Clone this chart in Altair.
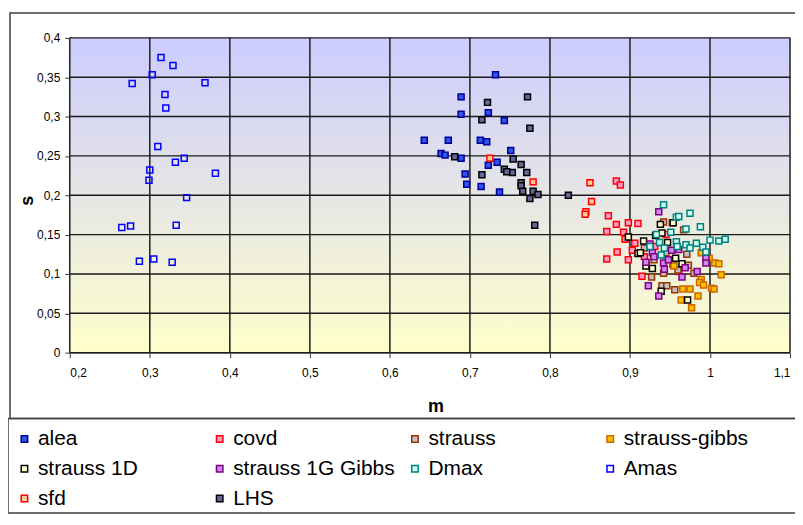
import altair as alt
import pandas as pd

FONT = "Liberation Sans"

series_names = ["alea", "covd", "strauss", "strauss-gibbs", "strauss 1D",
                "strauss 1G Gibbs", "Dmax", "Amas", "sfd", "LHS"]
fill_colors = ["#2F55E8", "#FF99CC", "#C0C0C0", "#FFC000", "#FFFFCC",
               "#CC88EE", "#CCFFEE", "transparent", "#FFCC99", "#666699"]
stroke_colors = ["#000099", "#FF0000", "#993300", "#CC6600", "#000000",
                 "#800080", "#008080", "#0000FF", "#FF0000", "#000000"]

x_ticks = [0.2, 0.3, 0.4, 0.5, 0.6, 0.7, 0.8, 0.9, 1.0, 1.1]
y_ticks = [0, 0.05, 0.1, 0.15, 0.2, 0.25, 0.3, 0.35, 0.4]

alea_m = [0.732, 0.689, 0.689, 0.723, 0.743, 0.673, 0.713, 0.721, 0.664, 0.669,
          0.689, 0.751, 0.734, 0.723, 0.694, 0.696, 0.714, 0.737, 0.643]
alea_s = [0.353, 0.325, 0.303, 0.305, 0.295, 0.270, 0.270, 0.268, 0.253, 0.251,
          0.247, 0.257, 0.242, 0.238, 0.227, 0.214, 0.211, 0.204, 0.270]

covd_m = [0.883, 0.888, 0.873, 0.883, 0.898, 0.910, 0.871, 0.892, 0.894, 0.906,
          0.903, 0.884, 0.871, 0.898, 0.915, 0.931, 0.961, 0.918, 0.945]
covd_s = [0.218, 0.213, 0.174, 0.163, 0.165, 0.164, 0.154, 0.153, 0.144, 0.139,
          0.130, 0.128, 0.119, 0.118, 0.097, 0.135, 0.103, 0.122, 0.150]

strauss_m = [0.942, 0.953, 0.918, 0.927, 0.942, 0.940, 0.954, 0.956, 0.973, 0.980,
             0.954, 0.971, 0.946, 0.967, 0.930, 0.960, 0.945]
strauss_s = [0.166, 0.165, 0.133, 0.096, 0.101, 0.085, 0.112, 0.080, 0.111, 0.101,
             0.113, 0.125, 0.085, 0.156, 0.118, 0.105, 0.127]

sg_m = [0.989, 0.999, 1.006, 1.011, 1.014, 0.989, 0.987, 0.992, 1.002, 1.005,
        0.966, 0.975, 0.985, 0.964, 0.977, 0.955]
sg_s = [0.127, 0.120, 0.114, 0.113, 0.099, 0.093, 0.089, 0.086, 0.082, 0.081,
        0.081, 0.081, 0.072, 0.067, 0.057, 0.110]

s1d_m = [0.938, 0.954, 0.898, 0.917, 0.910, 0.940, 0.928, 0.939, 0.972, 0.913,
         0.947, 0.957, 0.920, 0.932, 0.965]
s1d_s = [0.163, 0.165, 0.147, 0.142, 0.126, 0.152, 0.107, 0.078, 0.067, 0.127,
         0.140, 0.120, 0.110, 0.149, 0.113]

s1g_m = [0.936, 0.928, 0.920, 0.942, 0.943, 0.923, 0.936, 0.952, 0.961, 0.995,
         0.995, 0.984, 0.969, 0.965, 0.925, 0.948, 0.930]
s1g_s = [0.179, 0.127, 0.115, 0.114, 0.106, 0.085, 0.072, 0.130, 0.131, 0.120,
         0.114, 0.103, 0.108, 0.096, 0.138, 0.118, 0.122]

dmax_m = [0.942, 0.933, 0.937, 0.951, 0.943, 0.939, 0.958, 0.961, 0.975, 0.988,
          0.970, 0.958, 0.983, 0.970, 0.975, 0.991, 0.995, 1.000, 1.011, 1.019,
          0.959, 0.925]
dmax_s = [0.188, 0.150, 0.140, 0.153, 0.133, 0.124, 0.172, 0.173, 0.177, 0.160,
          0.157, 0.141, 0.139, 0.137, 0.133, 0.134, 0.128, 0.143, 0.142, 0.144,
          0.135, 0.135]

amas_m = [0.314, 0.329, 0.303, 0.278, 0.369, 0.319, 0.320, 0.310, 0.343, 0.332,
          0.382, 0.300, 0.299, 0.346, 0.265, 0.276, 0.333, 0.287, 0.305, 0.328]
amas_s = [0.375, 0.365, 0.353, 0.342, 0.343, 0.328, 0.311, 0.262, 0.247, 0.242,
          0.228, 0.232, 0.219, 0.197, 0.159, 0.161, 0.162, 0.116, 0.119, 0.115]

sfd_m = [0.850, 0.852, 0.845, 0.844, 0.725, 0.779]
sfd_s = [0.216, 0.192, 0.179, 0.176, 0.247, 0.217]

lhs_m = [0.772, 0.722, 0.715, 0.775, 0.681, 0.754, 0.764, 0.743, 0.753, 0.746,
         0.771, 0.715, 0.764, 0.764, 0.766, 0.779, 0.785, 0.775, 0.823, 0.781]
lhs_s = [0.325, 0.318, 0.296, 0.285, 0.249, 0.246, 0.239, 0.233, 0.229, 0.230,
         0.229, 0.226, 0.216, 0.212, 0.205, 0.205, 0.201, 0.196, 0.200, 0.162]

series_data = [
    ("alea", alea_m, alea_s), ("covd", covd_m, covd_s),
    ("strauss", strauss_m, strauss_s), ("strauss-gibbs", sg_m, sg_s),
    ("strauss 1D", s1d_m, s1d_s), ("strauss 1G Gibbs", s1g_m, s1g_s),
    ("Dmax", dmax_m, dmax_s), ("Amas", amas_m, amas_s),
    ("sfd", sfd_m, sfd_s), ("LHS", lhs_m, lhs_s),
]
rows = []
for name, ms, ss in series_data:
    for m, s in zip(ms, ss):
        rows.append({"series": name, "m": m, "s": s})
df = pd.DataFrame(rows)

W, H = 723, 316
one = pd.DataFrame({"a": [0]})

x_scale = alt.Scale(domain=[0.2, 1.1], nice=False, zero=False)
y_scale = alt.Scale(domain=[0, 0.4], nice=False)
x_axis = alt.Axis(values=x_ticks, title="m", labelPadding=10, labelOverlap=False,
                  labelExpr="replace(toString(datum.value), '.', ',')",
                  titleX=367, titleY=54, titleAlign="center", titleBaseline="middle")
y_axis = alt.Axis(values=y_ticks, title="s", labelPadding=5, labelOverlap=False,
                  labelExpr="replace(toString(datum.value), '.', ',')",
                  titleX=-42, titleY=163, titleAlign="center", titleBaseline="middle")

gradient = alt.Gradient(
    gradient="linear",
    stops=[alt.GradientStop(color="#CCCCFF", offset=0),
           alt.GradientStop(color="#FFFFCC", offset=1)],
    x1=0, x2=0, y1=0, y2=1,
)
bg = alt.Chart(one).mark_rect(color=gradient).encode(
    x=alt.value(0), x2=alt.value(W), y=alt.value(0), y2=alt.value(H)
)

xgrid = alt.Chart(pd.DataFrame({"m": x_ticks})).mark_rule(
    color="#2a2a2a", strokeWidth=1.6
).encode(x=alt.X("m:Q", scale=x_scale, axis=x_axis))
ygrid = alt.Chart(pd.DataFrame({"s": y_ticks})).mark_rule(
    color="#1a1a1a", strokeWidth=1.4
).encode(y=alt.Y("s:Q", scale=y_scale, axis=y_axis))

frame = alt.Chart(one).mark_rect(fill="transparent", stroke="#404040", strokeWidth=1.5).encode(
    x=alt.value(-60), x2=alt.value(W + 30), y=alt.value(-25), y2=alt.value(382)
)
legend_box = alt.Chart(one).mark_rect(fill="transparent", stroke="#404040", strokeWidth=1.5).encode(
    x=alt.value(-62), x2=alt.value(W + 30), y=alt.value(382), y2=alt.value(477)
)

legend = alt.Legend(
    orient="none", legendX=-56, legendY=392, direction="horizontal", columns=4,
    symbolType="square", symbolSize=42, symbolStrokeWidth=1.5, symbolOpacity=1,
    labelFontSize=21, labelFont=FONT, labelColor="black", labelOffset=3,
    labelLimit=300,
    columnPadding=9, rowPadding=8, gridAlign="all", title=None, padding=0,
)

points = alt.Chart(df).mark_point(
    shape="square", filled=True, size=36, strokeWidth=1.5, opacity=1
).encode(
    x=alt.X("m:Q", scale=x_scale, axis=x_axis),
    y=alt.Y("s:Q", scale=y_scale, axis=y_axis),
    fill=alt.Fill("series:N", scale=alt.Scale(domain=series_names, range=fill_colors),
                  legend=legend),
    stroke=alt.Stroke("series:N", scale=alt.Scale(domain=series_names, range=stroke_colors),
                      legend=legend),
)

chart = alt.layer(bg, xgrid, ygrid, frame, legend_box, points).properties(
    width=W, height=H,
    autosize=alt.AutoSizeParams(type="none"),
    padding={"left": 62, "top": 29, "right": 5, "bottom": 162},
    background="white",
).configure_view(strokeWidth=0).configure_axis(
    grid=False, labelOverlap=False, labelBound=False,
    domainColor="#808080", domainWidth=1.5,
    tickColor="#333333", tickSize=5,
    labelFont=FONT, labelFontSize=12, labelColor="black",
    titleFont=FONT, titleFontSize=18, titleFontWeight="bold", titleColor="black",
)

chart.save("out.html", embed_options={"renderer": "svg", "actions": False})
